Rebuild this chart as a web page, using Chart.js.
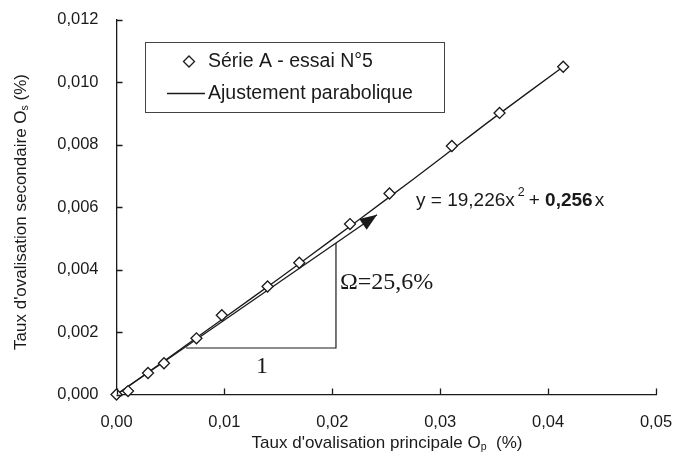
<!DOCTYPE html>
<html>
<head>
<meta charset="utf-8">
<script src="https://cdn.jsdelivr.net/npm/chart.js@4.4.1/dist/chart.umd.min.js"></script>
<style>
  html, body { margin: 0; padding: 0; background: #fff; }
  #wrap { width: 686px; height: 458px; position: relative; }
</style>
</head>
<body>
<div id="wrap"><canvas id="chart" width="686" height="458"></canvas></div>
<script>
// measured points, Série A - essai N°5
const seriesX = [0, 0.00107, 0.00292, 0.0044, 0.00741, 0.00976, 0.0140, 0.01694, 0.02164, 0.0253, 0.03108, 0.0355, 0.0414];
const seriesY = [0, 0.00011, 0.00069, 0.00100, 0.00180, 0.00254, 0.00346, 0.00422, 0.00546, 0.00644, 0.00796, 0.00902, 0.0105];

// parabolic fit curve
const fitX = [0, 0.005, 0.010, 0.015, 0.020, 0.025, 0.030, 0.035, 0.0414];
const fitY = [0, 0.00122, 0.00246, 0.00370, 0.00497, 0.00625, 0.00755, 0.00887, 0.0105];

// tangent arrow and slope triangle
const tangentX = [0, 0.02414];
const tangentY = [0, 0.00576];
const triangleX = [0.00644, 0.02034, 0.02034];
const triangleY = [0.00149, 0.00149, 0.00485];

const xTicks = [0, 0.01, 0.02, 0.03, 0.04, 0.05];
const yTicks = [0, 0.002, 0.004, 0.006, 0.008, 0.010, 0.012];

const ink = '#1a1a1a';
const sans = '"Liberation Sans", Arial, sans-serif';
const serif = '"Liberation Serif", "Times New Roman", serif';

const toXY = (xs, ys) => xs.map((x, i) => ({ x: x, y: ys[i] }));

// ticks pointing inward, titles with subscripts, legend box and annotations
const decorPlugin = {
  id: 'decor',
  afterDraw(chart) {
    const ctx = chart.ctx;
    const xs = chart.scales.x, ys = chart.scales.y;
    const area = chart.chartArea;
    ctx.save();
    ctx.strokeStyle = ink;
    ctx.lineWidth = 1.3;
    ctx.beginPath();
    xTicks.forEach(v => {
      const px = Math.round(xs.getPixelForValue(v)) + 0.5;
      ctx.moveTo(px, area.bottom);
      ctx.lineTo(px, area.bottom - 6);
    });
    yTicks.forEach(v => {
      const py = Math.round(ys.getPixelForValue(v)) + 0.5;
      ctx.moveTo(area.left, py);
      ctx.lineTo(area.left + 6, py);
    });
    ctx.stroke();

    // arrow head at the tangent end
    const tx0 = xs.getPixelForValue(tangentX[0]), ty0 = ys.getPixelForValue(tangentY[0]);
    const tx1 = xs.getPixelForValue(tangentX[1]), ty1 = ys.getPixelForValue(tangentY[1]);
    const ang = Math.atan2(ty1 - ty0, tx1 - tx0);
    const L = 17, W = 6.5;
    ctx.fillStyle = ink;
    ctx.beginPath();
    ctx.moveTo(tx1, ty1);
    ctx.lineTo(tx1 - L * Math.cos(ang) + W * Math.sin(ang), ty1 - L * Math.sin(ang) - W * Math.cos(ang));
    ctx.lineTo(tx1 - L * Math.cos(ang) - W * Math.sin(ang), ty1 - L * Math.sin(ang) + W * Math.cos(ang));
    ctx.closePath();
    ctx.fill();

    // axis titles
    ctx.fillStyle = ink;
    ctx.textBaseline = 'alphabetic';
    function subTitle(main, sub, tail, size) {
      ctx.font = size + 'px ' + sans;
      const w1 = ctx.measureText(main).width;
      ctx.font = (size * 0.62) + 'px ' + sans;
      const w2 = ctx.measureText(sub).width;
      ctx.font = size + 'px ' + sans;
      const w3 = ctx.measureText(tail).width;
      return { w: w1 + w2 + w3, draw(x, y) {
        ctx.font = size + 'px ' + sans;
        ctx.fillText(main, x, y);
        ctx.font = (size * 0.62) + 'px ' + sans;
        ctx.fillText(sub, x + w1, y + 2);
        ctx.font = size + 'px ' + sans;
        ctx.fillText(tail, x + w1 + w2, y);
      } };
    }
    ctx.textAlign = 'left';
    const xt = subTitle("Taux d'ovalisation principale O", 'p', '  (%)', 17);
    xt.draw(387 - xt.w / 2, 448);
    const yt = subTitle("Taux d'ovalisation secondaire O", 's', ' (%)', 17);
    ctx.save();
    ctx.translate(26, 212);
    ctx.rotate(-Math.PI / 2);
    yt.draw(-yt.w / 2, 0);
    ctx.restore();

    // legend box
    ctx.strokeStyle = '#444';
    ctx.lineWidth = 1;
    ctx.strokeRect(145.5, 42.5, 299, 70);
    ctx.fillStyle = '#fff';
    ctx.strokeStyle = ink;
    ctx.lineWidth = 1.3;
    ctx.beginPath();
    ctx.moveTo(189, 56); ctx.lineTo(194.5, 61.5); ctx.lineTo(189, 67); ctx.lineTo(183.5, 61.5);
    ctx.closePath();
    ctx.fill(); ctx.stroke();
    ctx.beginPath();
    ctx.moveTo(167, 93.5); ctx.lineTo(205, 93.5);
    ctx.stroke();
    ctx.fillStyle = ink;
    ctx.font = '19.5px ' + sans;
    ctx.textBaseline = 'middle';
    ctx.fillText('Série A - essai N°5', 208, 62);
    ctx.fillText('Ajustement parabolique', 208, 94);

    // equation
    ctx.textBaseline = 'alphabetic';
    let ex = 416;
    const ey = 206;
    ctx.font = '19px ' + sans;
    ctx.fillText('y = 19,226x', ex, ey);
    ex += ctx.measureText('y = 19,226x').width + 3;
    ctx.font = '12.5px ' + sans;
    ctx.fillText('2', ex, ey - 10);
    ex += ctx.measureText('2').width + 4;
    ctx.font = '19px ' + sans;
    ctx.fillText('+ ', ex, ey);
    ex += ctx.measureText('+ ').width;
    ctx.font = 'bold 19px ' + sans;
    ctx.fillText('0,256', ex, ey);
    ex += ctx.measureText('0,256').width + 2;
    ctx.font = '19px ' + sans;
    ctx.fillText('x', ex, ey);

    // triangle labels
    ctx.font = '24px ' + serif;
    ctx.textBaseline = 'middle';
    ctx.fillText('Ω=25,6%', 340, 283);
    ctx.textAlign = 'center';
    ctx.fillText('1', 262, 367);
    ctx.restore();
  }
};

new Chart(document.getElementById('chart'), {
  type: 'scatter',
  data: {
    datasets: [
      {
        label: 'Ajustement parabolique',
        data: toXY(fitX, fitY),
        showLine: true,
        borderColor: ink,
        borderWidth: 1.3,
        pointRadius: 0,
        tension: 0.3,
        order: 2
      },
      {
        label: 'tangente',
        data: toXY(tangentX, tangentY),
        showLine: true,
        borderColor: ink,
        borderWidth: 1.3,
        pointRadius: 0,
        order: 3
      },
      {
        label: 'triangle',
        data: toXY(triangleX, triangleY),
        showLine: true,
        borderColor: ink,
        borderWidth: 1.2,
        pointRadius: 0,
        order: 3
      },
      {
        label: 'Série A - essai N°5',
        data: toXY(seriesX, seriesY),
        showLine: false,
        clip: false,
        pointStyle: 'rectRot',
        pointRadius: 5.5,
        pointBorderWidth: 1.3,
        pointBackgroundColor: '#fff',
        pointBorderColor: ink,
        order: 1
      }
    ]
  },
  options: {
    responsive: false,
    animation: false,
    layout: { padding: { left: 0, top: 15, right: 30, bottom: 0 } },
    plugins: { legend: { display: false }, tooltip: { enabled: false } },
    scales: {
      x: {
        type: 'linear',
        min: 0, max: 0.05,
        afterBuildTicks: s => { s.ticks = xTicks.map(v => ({ value: v })); },
        afterFit: s => { s.height = 63.5; },
        grid: { display: false },
        border: { display: true, color: ink, width: 1.3 },
        ticks: {
          color: ink,
          padding: 10,
          maxRotation: 0,
          font: { family: sans, size: 16.5 },
          callback: v => v.toFixed(2).replace('.', ',')
        }
      },
      y: {
        type: 'linear',
        min: 0, max: 0.012,
        afterBuildTicks: s => { s.ticks = yTicks.map(v => ({ value: v })); },
        afterFit: s => { s.width = 116.5; },
        grid: { display: false },
        border: { display: true, color: ink, width: 1.3 },
        ticks: {
          color: ink,
          padding: 10,
          font: { family: sans, size: 16.5 },
          callback: v => v.toFixed(3).replace('.', ',')
        }
      }
    }
  },
  plugins: [decorPlugin]
});
</script>
</body>
</html>
